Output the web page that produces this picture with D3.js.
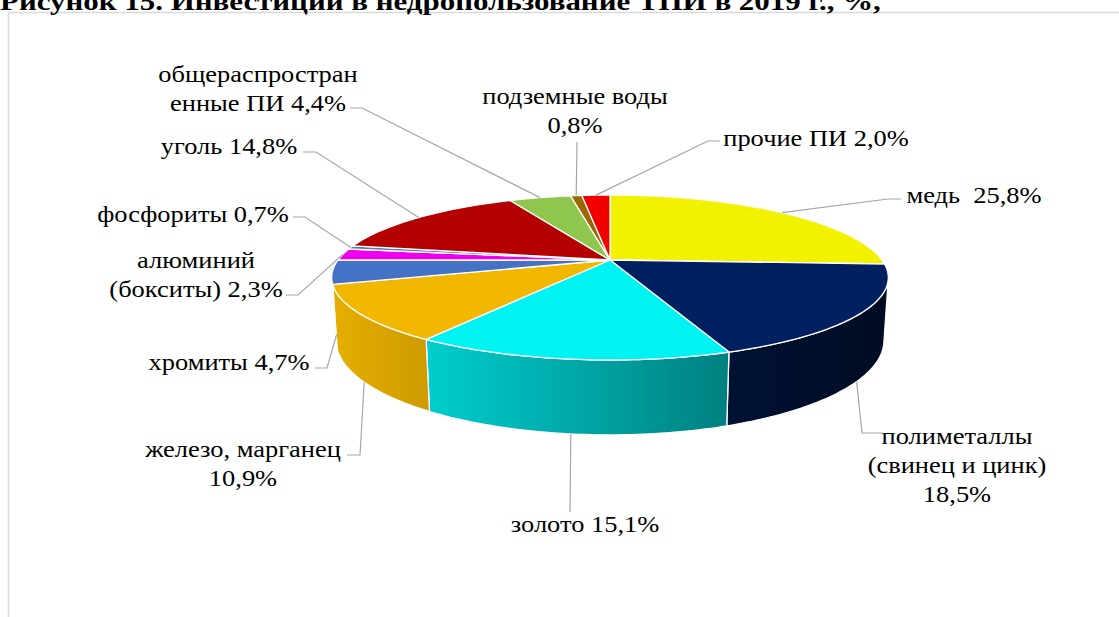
<!DOCTYPE html>
<html>
<head>
<meta charset="utf-8">
<script src="https://cdn.jsdelivr.net/npm/d3@7"></script>
<style>
    body { margin: 0; background: #fff; }
    svg text { font-family: "Liberation Serif", "Times New Roman", serif; fill: #000; }
</style>
</head>
<body>
<svg id="chart" width="1119" height="617"></svg>
<script>
'use strict';

// data, clockwise from 12 o'clock
var categories = [
    'медь', 'полиметаллы (свинец и цинк)', 'золото', 'железо, марганец',
    'хромиты', 'алюминий (бокситы)', 'фосфориты', 'уголь',
    'общераспространенные ПИ', 'подземные воды', 'прочие ПИ'
];
var shares = [25.8, 18.5, 15.1, 10.9, 4.7, 2.3, 0.7, 14.8, 4.4, 0.8, 2.0];
var colors = [
    '#f2f200', '#002060', '#00f2f2', '#f2b700', '#4472c4', '#f000f0',
    '#5a7eb0', '#b40000', '#8fc74e', '#996600', '#f00000'
];
// label text as it is broken in the picture, value is appended to last line
var labelLines = [
    ['медь '],
    ['полиметаллы', '(свинец и цинк)', ''],
    ['золото'],
    ['железо, марганец', ''],
    ['хромиты'],
    ['алюминий', '(бокситы)'],
    ['фосфориты'],
    ['уголь'],
    ['общераспростран', 'енные ПИ'],
    ['подземные воды', ''],
    ['прочие ПИ']
];
var titleText = 'Рисунок 15. Инвестиции в недропользование ТПИ в 2019 г., %,';

// label placement: text centre, first baseline, elbow of leader, anchor on side or top
var labelLayout = [
    {x: 974, y: 203, hx: [901, 888], hy: 199, side: null},
    {x: 957, y: 444, hx: [882, 862], hy: 433, side: 1},
    {x: 585, y: 532, hx: [570, 570], hy: 512, side: 1},
    {x: 243, y: 457, hx: [347, 360], hy: 455, side: 1},
    {x: 229, y: 370, hx: [315, 327], hy: 368, side: 1},
    {x: 196, y: 268, hx: [286, 298], hy: 295, side: null},
    {x: 193, y: 222, hx: [293, 305], hy: 217, side: null},
    {x: 229, y: 154, hx: [303, 316], hy: 152, side: null},
    {x: 258, y: 82, hx: [350, 362], hy: 108, side: null},
    {x: 575, y: 104, hx: [577, 577], hy: 142, side: null},
    {x: 816, y: 146, hx: [720, 708], hy: 141, side: null}
];

var svg = d3.select('#chart');
var defs = svg.append('defs');

// frame of the chart area
svg.append('rect')
    .attr('x', 8.5).attr('y', 12.5)
    .attr('width', 1130).attr('height', 640)
    .attr('fill', '#fff')
    .attr('stroke', '#d9d9d9')
    .attr('stroke-width', 1.5);

// text in the picture is a little wider than plain Times, so stretch it
svg.append('text')
    .attr('transform', 'translate(0,10) scale(1.19,1)')
    .attr('font-size', 26)
    .attr('font-weight', 'bold')
    .text(titleText);

// perspective camera for the tilted pie
var cam = {cx: 610, cy: 260, f: 1228, D: 4.515, tilt: 16.84 * Math.PI / 180, h: 0.237};
var sinT = Math.sin(cam.tilt), cosT = Math.cos(cam.tilt);

function project(theta, r, yw) {
    var X = r * Math.sin(theta),
        Z = r * Math.cos(theta);
    var yc = yw * cosT + Z * sinT,
        d = cam.D + Z * cosT - yw * sinT;
    return [cam.cx + cam.f * X / d, cam.cy - cam.f * yc / d];
}

function arcPoints(a0, a1, yw) {
    var n = Math.max(2, Math.ceil((a1 - a0) / (Math.PI / 180)));
    return d3.range(n + 1).map(function(i) {
        return project(a0 + (a1 - a0) * i / n, 1, yw);
    });
}

var pie = d3.pie().sort(null).value(function(d) { return d; });
var arcs = pie(shares);
var line = d3.line();
var fmt = function(v) { return d3.format('.1f')(v).replace('.', ',') + '%'; };

// outer wall is visible where cos(theta) < -1 / (D cos tilt)
var visLimit = Math.acos(-1 / (cam.D * cosT));
var visMin = visLimit, visMax = 2 * Math.PI - visLimit;
var shade = d3.scaleLinear().domain([333, 887]).range([0.95, 0.36]).clamp(true);

var sides = svg.append('g').attr('class', 'sides');
arcs.forEach(function(a, i) {
    var a0 = Math.max(a.startAngle, visMin),
        a1 = Math.min(a.endAngle, visMax);
    if (a1 <= a0) return;
    var top = arcPoints(a0, a1, 0),
        bottom = arcPoints(a0, a1, -cam.h).reverse();
    var pts = top.concat(bottom);
    var xs = d3.extent(pts, function(p) { return p[0]; });
    var gid = 'side' + i;
    var grad = defs.append('linearGradient')
        .attr('id', gid)
        .attr('gradientUnits', 'userSpaceOnUse')
        .attr('x1', xs[0]).attr('x2', xs[1])
        .attr('y1', 0).attr('y2', 0);
    grad.append('stop').attr('offset', 0)
        .attr('stop-color', d3.interpolateRgb('#000', colors[i])(shade(xs[0])));
    grad.append('stop').attr('offset', 1)
        .attr('stop-color', d3.interpolateRgb('#000', colors[i])(shade(xs[1])));
    sides.append('path')
        .attr('d', line(pts) + 'Z')
        .attr('fill', 'url(#' + gid + ')')
        .attr('stroke', '#fff')
        .attr('stroke-width', 1.3)
        .attr('stroke-linejoin', 'round');
});

var tops = svg.append('g').attr('class', 'tops');
arcs.forEach(function(a, i) {
    var pts = [project(0, 0, 0)].concat(arcPoints(a.startAngle, a.endAngle, 0));
    tops.append('path')
        .attr('d', line(pts) + 'Z')
        .attr('fill', colors[i])
        .attr('stroke', '#fff')
        .attr('stroke-width', 1.3)
        .attr('stroke-linejoin', 'round');
});

// leader lines and labels
var labels = svg.append('g').attr('class', 'labels');
arcs.forEach(function(a, i) {
    var L = labelLayout[i];
    var mid = (a.startAngle + a.endAngle) / 2;
    var anchor = L.side === null ? project(mid, 1, 0) : project(mid, 1, -cam.h * L.side);
    labels.append('path')
        .attr('d', line([[L.hx[0], L.hy], [L.hx[1], L.hy], anchor]))
        .attr('fill', 'none')
        .attr('stroke', '#a6a6a6')
        .attr('stroke-width', 1.2);

    var lines = labelLines[i].slice();
    var last = lines.length - 1;
    lines[last] = lines[last] === '' ? fmt(shares[i]) : lines[last] + ' ' + fmt(shares[i]);
    var t = labels.append('text')
        .attr('transform', 'translate(' + L.x + ',' + L.y + ') scale(1.15,1)')
        .attr('text-anchor', 'middle')
        .attr('font-size', 23)
        .style('white-space', 'pre');
    lines.forEach(function(s, k) {
        t.append('tspan')
            .attr('x', 0)
            .attr('y', k * 29)
            .text(s);
    });
});
</script>
</body>
</html>
